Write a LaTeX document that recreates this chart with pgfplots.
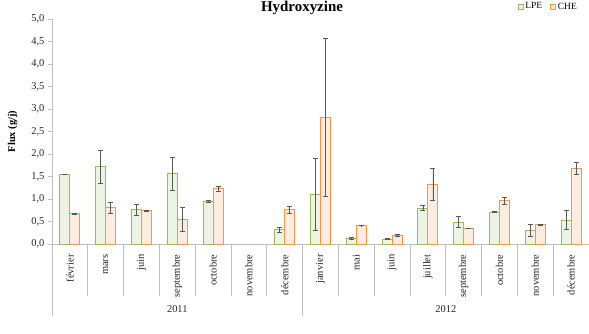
\documentclass[border=0pt]{standalone}
\usepackage{fontspec}
\setmainfont{Liberation Serif}
\usepackage{pgfplots}
\pgfplotsset{compat=1.18}
\definecolor{lpe}{HTML}{9BBB59}
\definecolor{che}{HTML}{F79646}
\definecolor{lpefill}{HTML}{EDF3E2}
\definecolor{chefill}{HTML}{FDEDE0}
\definecolor{sep}{HTML}{BFBFBF}
\definecolor{errc}{HTML}{595959}
\begin{document}
\begin{tikzpicture}
\begin{axis}[
  at={(52bp,90bp)}, anchor=south west,
  scale only axis, width=537bp, height=225bp,
  xmin=-0.5, xmax=14.5, ymin=0, ymax=5,
  clip=false,
  axis x line=bottom, axis y line=left,
  axis line style={sep,-},
  ybar=0pt, bar width=10bp,
  xtick={0,...,14},
  xticklabels={février,mars,juin,septembre,octobre,novembre,décembre,janvier,mai,juin,juillet,septembre,octobre,novembre,décembre},
  x tick style={draw=none},
  xticklabel style={rotate=90, anchor=east, font=\fontsize{10.5}{12}\selectfont, text=black!85},
  xticklabel shift=3bp,
  ytick={0,0.5,...,5},
  y tick style={sep},
  tick align=outside,
  major tick length=4bp,
  yticklabel style={font=\fontsize{10.5}{12}\selectfont, text=black!85},
  /pgf/number format/.cd, fixed, fixed zerofill, precision=1, use comma, assume math mode=true,
  /pgfplots/.cd,
  ylabel={\textbf{Flux (g/j)}},
  ylabel style={font=\fontsize{10.5}{12}\selectfont, at={(axis description cs:0,0.5)}, anchor=south, yshift=31bp},
  legend style={at={(0.924,1.055)}, anchor=center, draw=none, fill=none, font=\fontsize{9.5}{11}\selectfont, legend columns=2, /tikz/every even column/.append style={column sep=6bp}, inner sep=0pt},
  error bars/y dir=both, error bars/y explicit,
  error bars/error bar style={errc, line width=0.7bp},
  error bars/error mark options={rotate=90, errc, mark size=2.5bp, line width=0.7bp},
]
\addplot[draw=lpe, fill=lpefill, line width=0.9bp,
  legend image code/.code={\draw[lpe, fill=lpefill, line width=0.8bp] (0bp,-2.5bp) rectangle (5bp,2.5bp);}]
  coordinates {
  (0,1.55) +- (0,0.005)
  (1,1.72) +- (0,0.37)
  (2,0.76) +- (0,0.12)
  (3,1.56) +- (0,0.37)
  (4,0.95) +- (0,0.03)
  (6,0.32) +- (0,0.05)
  (7,1.10) +- (0,0.80)
  (8,0.12) +- (0,0.02)
  (9,0.11) +- (0,0.01)
  (10,0.80) +- (0,0.05)
  (11,0.49) +- (0,0.12)
  (12,0.71) +- (0,0.005)
  (13,0.30) +- (0,0.13)
  (14,0.53) +- (0,0.21)
  };
\addlegendentry{LPE}
\addplot[draw=che, fill=chefill, line width=0.9bp,
  legend image code/.code={\draw[che, fill=chefill, line width=0.8bp] (0bp,-2.5bp) rectangle (5bp,2.5bp);}]
  coordinates {
  (0,0.67) +- (0,0.005)
  (1,0.81) +- (0,0.12)
  (2,0.74) +- (0,0.005)
  (3,0.55) +- (0,0.27)
  (4,1.23) +- (0,0.05)
  (6,0.76) +- (0,0.07)
  (7,2.82) +- (0,1.75)
  (8,0.41) +- (0,0.005)
  (9,0.19) +- (0,0.03)
  (10,1.32) +- (0,0.36)
  (11,0.35) +- (0,0.005)
  (12,0.96) +- (0,0.07)
  (13,0.43) +- (0,0.005)
  (14,1.68) +- (0,0.14)
  };
\addlegendentry{CHE}
\pgfplotsinvokeforeach{0.5,1.5,2.5,3.5,4.5,5.5,7.5,8.5,9.5,10.5,11.5,12.5,13.5}{
  \draw[sep, line width=0.7bp] (axis cs:#1,0) -- ([yshift=-52bp]axis cs:#1,0);
}
\pgfplotsinvokeforeach{-0.5,6.5,14.5}{
  \draw[sep, line width=0.7bp] (axis cs:#1,0) -- ([yshift=-72bp]axis cs:#1,0);
}
\node[font=\fontsize{10.5}{12}\selectfont, text=black!85] at ([yshift=-65bp]axis cs:3,0) {2011};
\node[font=\fontsize{10.5}{12}\selectfont, text=black!85] at ([yshift=-65bp]axis cs:10.5,0) {2012};
\end{axis}
\node[font=\fontsize{15}{17}\bfseries, anchor=north, inner sep=0pt] at (302bp,333bp) {Hydroxyzine};
\pgfresetboundingbox
\path[use as bounding box] (0bp,0bp) rectangle (589bp,334bp);
\end{tikzpicture}
\end{document}
